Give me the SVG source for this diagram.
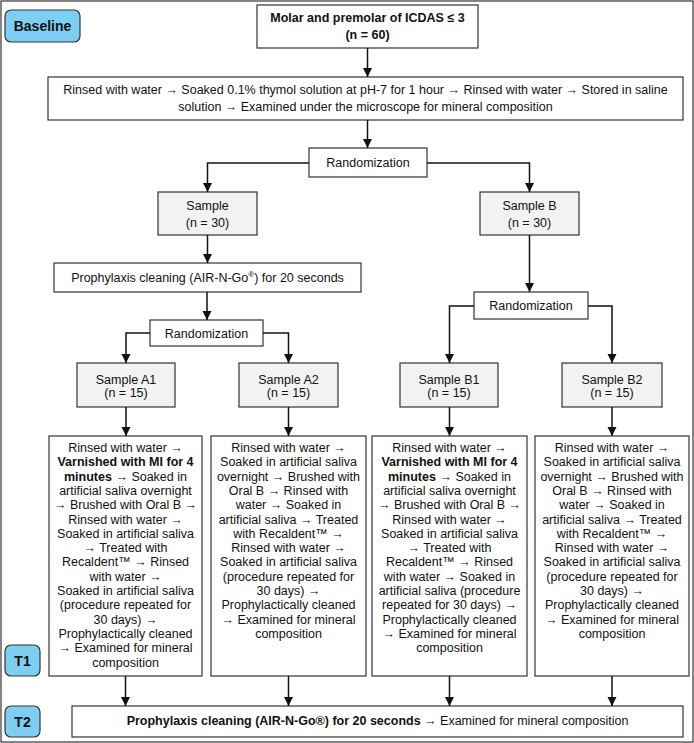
<svg xmlns="http://www.w3.org/2000/svg" width="694" height="743" viewBox="0 0 694 743">
<defs>
<marker id="ah" viewBox="0 0 10 10" refX="10" refY="5" markerWidth="9" markerHeight="10" markerUnits="userSpaceOnUse" orient="auto">
<path d="M0,0 L10,5 L0,10 z" fill="#111"/>
</marker>
<style>
text{font-family:"Liberation Sans",Arial,sans-serif;font-size:12.5px;fill:#111;text-anchor:middle}
.b{font-weight:bold}
.box{fill:#fff;stroke:#333;stroke-width:1.2}
.gray{fill:#f2f2f2;stroke:#333;stroke-width:1.2}
.tag{fill:#7ccff3;stroke:#333;stroke-width:1.2}
.tagt{font-weight:bold;font-size:14px}
.c{fill:none;stroke:#111;stroke-width:1.5;marker-end:url(#ah)}
</style>
</defs>
<rect x="1" y="1" width="692" height="741" fill="#fff" stroke="#333" stroke-width="1.2"/>

<g id="baseline"><rect class="tag" x="5" y="10" width="75" height="32" rx="6"/><text class="tagt" x="42.5" y="31">Baseline</text></g>
<g id="t1"><rect class="tag" x="5" y="645" width="35" height="31" rx="6"/><text class="tagt" x="22.5" y="665.5">T1</text></g>
<g id="t2"><rect class="tag" x="5" y="706" width="35" height="31" rx="6"/><text class="tagt" x="22.5" y="726.5">T2</text></g>

<g id="molar"><rect class="box" x="257" y="5" width="221" height="43"/>
<text class="b" x="367.5" y="22">Molar and premolar of ICDAS ≤ 3</text>
<text class="b" x="367.5" y="39">(n = 60)</text></g>

<g id="prep"><rect class="box" x="48" y="77" width="635" height="43"/>
<text x="365.5" y="94">Rinsed with water → Soaked 0.1% thymol solution at pH-7 for 1 hour → Rinsed with water → Stored in saline</text>
<text x="365.5" y="111">solution → Examined under the microscope for mineral composition</text></g>

<g id="rand1"><rect class="box" x="309" y="148" width="118" height="29"/><text x="368" y="167">Randomization</text></g>

<g id="sampleA"><rect class="gray" x="158" y="192" width="99" height="43"/>
<text x="207.5" y="209.5">Sample</text><text x="207.5" y="226.5">(n = 30)</text></g>

<g id="sampleB"><rect class="gray" x="480" y="192" width="99" height="43"/>
<text x="529.5" y="209.5">Sample B</text><text x="529.5" y="226.5">(n = 30)</text></g>

<g id="prophyA"><rect class="box" x="54" y="263" width="307" height="29"/>
<text x="207.5" y="282">Prophylaxis cleaning (AIR-N-Go<tspan font-size="8" dy="-5">®</tspan><tspan dy="5">) for 20 seconds</tspan></text></g>

<g id="randA"><rect class="box" x="150" y="320" width="113" height="26"/><text x="206.5" y="337.5">Randomization</text></g>
<g id="randB"><rect class="box" x="474" y="292" width="114" height="27"/><text x="531" y="310">Randomization</text></g>

<g id="sampleA1"><rect class="gray" x="77" y="363" width="98" height="44"/><text x="126" y="383.5">Sample A1</text><text x="126" y="396.5">(n = 15)</text></g>
<g id="sampleA2"><rect class="gray" x="239" y="363" width="99" height="44"/><text x="288.5" y="383.5">Sample A2</text><text x="288.5" y="396.5">(n = 15)</text></g>
<g id="sampleB1"><rect class="gray" x="400" y="363" width="98" height="44"/><text x="449" y="383.5">Sample B1</text><text x="449" y="396.5">(n = 15)</text></g>
<g id="sampleB2"><rect class="gray" x="562" y="363" width="100" height="44"/><text x="612" y="383.5">Sample B2</text><text x="612" y="396.5">(n = 15)</text></g>

<g id="procA1"><rect class="box" x="49" y="436" width="153" height="240"/>
<text x="125.5" y="452">Rinsed with water →</text>
<text class="b" x="125.5" y="466.3">Varnished with MI for 4</text>
<text x="125.5" y="480.6"><tspan font-weight="bold">minutes</tspan> → Soaked in</text>
<text x="125.5" y="494.9">artificial saliva overnight</text>
<text x="125.5" y="509.2">→ Brushed with Oral B →</text>
<text x="125.5" y="523.5">Rinsed with water →</text>
<text x="125.5" y="537.8">Soaked in artificial saliva</text>
<text x="125.5" y="552.1">→ Treated with</text>
<text x="125.5" y="566.4">Recaldent™ → Rinsed</text>
<text x="125.5" y="580.7">with water →</text>
<text x="125.5" y="595">Soaked in artificial saliva</text>
<text x="125.5" y="609.3">(procedure repeated for</text>
<text x="125.5" y="623.6">30 days) →</text>
<text x="125.5" y="637.9">Prophylactically cleaned</text>
<text x="125.5" y="652.2">→ Examined for mineral</text>
<text x="125.5" y="666.5">composition</text></g>

<g id="procA2"><rect class="box" x="211" y="436" width="155" height="240"/>
<text x="288.5" y="452">Rinsed with water →</text>
<text x="288.5" y="466.3">Soaked in artificial saliva</text>
<text x="288.5" y="480.6">overnight → Brushed with</text>
<text x="288.5" y="494.9">Oral B → Rinsed with</text>
<text x="288.5" y="509.2">water → Soaked in</text>
<text x="288.5" y="523.5">artificial saliva → Treated</text>
<text x="288.5" y="537.8">with Recaldent™ →</text>
<text x="288.5" y="552.1">Rinsed with water →</text>
<text x="288.5" y="566.4">Soaked in artificial saliva</text>
<text x="288.5" y="580.7">(procedure repeated for</text>
<text x="288.5" y="595">30 days) →</text>
<text x="288.5" y="609.3">Prophylactically cleaned</text>
<text x="288.5" y="623.6">→ Examined for mineral</text>
<text x="288.5" y="637.9">composition</text></g>

<g id="procB1"><rect class="box" x="372" y="436" width="155" height="240"/>
<text x="449.5" y="452">Rinsed with water →</text>
<text class="b" x="449.5" y="466.3">Varnished with MI for 4</text>
<text x="449.5" y="480.6"><tspan font-weight="bold">minutes</tspan> → Soaked in</text>
<text x="449.5" y="494.9">artificial saliva overnight</text>
<text x="449.5" y="509.2">→ Brushed with Oral B →</text>
<text x="449.5" y="523.5">Rinsed with water →</text>
<text x="449.5" y="537.8">Soaked in artificial saliva</text>
<text x="449.5" y="552.1">→ Treated with</text>
<text x="449.5" y="566.4">Recaldent™ → Rinsed</text>
<text x="449.5" y="580.7">with water → Soaked in</text>
<text x="449.5" y="595">artificial saliva (procedure</text>
<text x="449.5" y="609.3">repeated for 30 days) →</text>
<text x="449.5" y="623.6">Prophylactically cleaned</text>
<text x="449.5" y="637.9">→ Examined for mineral</text>
<text x="449.5" y="652.2">composition</text></g>

<g id="procB2"><rect class="box" x="535" y="436" width="154" height="240"/>
<text x="612" y="452">Rinsed with water →</text>
<text x="612" y="466.3">Soaked in artificial saliva</text>
<text x="612" y="480.6">overnight → Brushed with</text>
<text x="612" y="494.9">Oral B → Rinsed with</text>
<text x="612" y="509.2">water → Soaked in</text>
<text x="612" y="523.5">artificial saliva → Treated</text>
<text x="612" y="537.8">with Recaldent™ →</text>
<text x="612" y="552.1">Rinsed with water →</text>
<text x="612" y="566.4">Soaked in artificial saliva</text>
<text x="612" y="580.7">(procedure repeated for</text>
<text x="612" y="595">30 days) →</text>
<text x="612" y="609.3">Prophylactically cleaned</text>
<text x="612" y="623.6">→ Examined for mineral</text>
<text x="612" y="637.9">composition</text></g>

<g id="final"><rect class="box" x="72" y="706" width="611" height="31"/>
<text x="377.5" y="724.5"><tspan font-weight="bold">Prophylaxis cleaning (AIR-N-Go®) for 20 seconds</tspan> → Examined for mineral composition</text></g>

<g id="connectors">
<path class="c" d="M367.5,48 V77"/>
<path class="c" d="M367.5,120 V148"/>
<path class="c" d="M309,163 H207.5 V192"/>
<path class="c" d="M427,163 H529.5 V192"/>
<path class="c" d="M207.5,235 V263"/>
<path class="c" d="M529.5,235 V292"/>
<path class="c" d="M207,292 V320"/>
<path class="c" d="M150,333 H126 V363"/>
<path class="c" d="M263,333 H288.5 V363"/>
<path class="c" d="M474,306 H449.5 V363"/>
<path class="c" d="M588,306 H612 V363"/>
<path class="c" d="M126,407 V436"/>
<path class="c" d="M288.5,407 V436"/>
<path class="c" d="M449.5,407 V436"/>
<path class="c" d="M612,407 V436"/>
<path class="c" d="M125.5,676 V706"/>
<path class="c" d="M288.5,676 V706"/>
<path class="c" d="M449.5,676 V706"/>
<path class="c" d="M612,676 V706"/>
</g>
</svg>
